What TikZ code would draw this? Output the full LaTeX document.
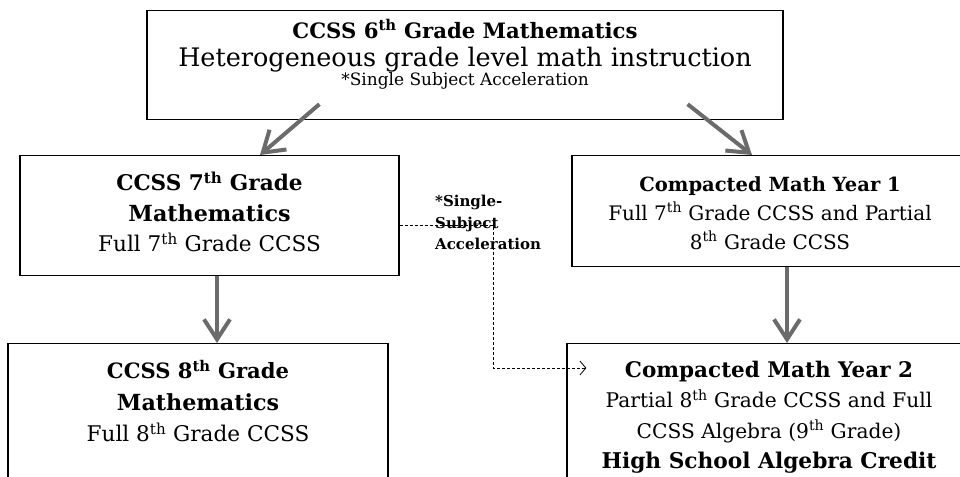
\documentclass[tikz,border=0pt]{standalone}
\usepackage{fontspec}
\setmainfont{DejaVu Serif}
\usetikzlibrary{arrows.meta, positioning, calc}
\definecolor{arrowgray}{gray}{0.42}
\newcommand{\fsz}[2]{\fontsize{#1pt}{#2pt}\selectfont}

\begin{document}
\begin{tikzpicture}[x=1pt, y=-1pt,
    box/.style={draw, line width=1.2pt, anchor=north, align=center, inner sep=0pt},
    acclabel/.style={font=\fsz{15}{21.5}\bfseries, align=left, inner sep=0pt, anchor=north west},
    bigarrow/.style={line width=4pt, draw=arrowgray, -{Straight Barb[length=20pt, width=26pt, line width=4pt]}},
    dashline/.style={line width=0.8pt, dash pattern=on 3pt off 2pt, -{Straight Barb[length=6pt, width=14pt]}}
]
    \useasboundingbox (0,0) rectangle (960,476);
    \clip (0,0) rectangle (960,476);

    \node (g6) [box, minimum width=636pt, text height=75pt, text depth=34pt, font=\fsz{21.2}{28.5}] at (465,10)
        {\textbf{CCSS 6\textsuperscript{th} Grade Mathematics}\\
         \fsz{25.5}{28.5}Heterogeneous grade level math instruction\\[-9.5pt]
         \fsz{17}{28.5}*Single Subject Acceleration};
    \node (g7) [box, minimum width=379pt, text height=96pt, text depth=24pt, font=\fsz{21.6}{30.5}] at (209.5,155)
        {\textbf{CCSS 7\textsuperscript{th} Grade}\\ \textbf{\fsz{22.2}{30.5}Mathematics}\\ Full 7\textsuperscript{th} Grade CCSS};
    \node (cm1) [box, minimum width=396pt, text height=93.5pt, text depth=17.5pt, font=\fsz{20}{29}] at (770,155)
        {\textbf{\fsz{19.5}{29}Compacted Math Year 1}\\ Full 7\textsuperscript{th} Grade CCSS and Partial\\ 8\textsuperscript{th} Grade CCSS};
    \node (g8) [box, minimum width=380pt, text height=98pt, text depth=60pt, font=\fsz{21.6}{31.5}] at (198,343)
        {\textbf{\fsz{21.1}{31.5}CCSS 8\textsuperscript{th} Grade}\\ \textbf{\fsz{22.2}{31.5}Mathematics}\\ Full 8\textsuperscript{th} Grade CCSS};
    \node (cm2) [box, minimum width=404pt, text height=125pt, text depth=40pt, font=\fsz{20.2}{30.5}] at (769,343)
        {\textbf{\fsz{21.5}{30.5}Compacted Math Year 2}\\ Partial 8\textsuperscript{th} Grade CCSS and Full\\
         CCSS Algebra (9\textsuperscript{th} Grade)\\ \textbf{\fsz{21.7}{30.5}High School Algebra Credit}};

    % single subject acceleration path
    \coordinate (turn) at (493,368);
    \draw [dashline] ([yshift=-10pt]g7.east) -| (turn) -- ($(turn -| cm2.west)+(20,0)$);
    \node (acc) [acclabel] at (435,195) {*Single-\\Subject\\Acceleration};

    \draw [bigarrow] ([xshift=173pt, yshift=16pt]g6.south west) -- ([xshift=50.5pt]g7.north);
    \draw [bigarrow] ([xshift=-96pt, yshift=16pt]g6.south east) -- ([xshift=-18pt]cm1.north);
    \draw [bigarrow] ([xshift=7.5pt]g7.south) -- ([xshift=19pt]g8.north);
    \draw [bigarrow] ([xshift=17pt]cm1.south) -- ([xshift=18pt]cm2.north);
\end{tikzpicture}
\end{document}
